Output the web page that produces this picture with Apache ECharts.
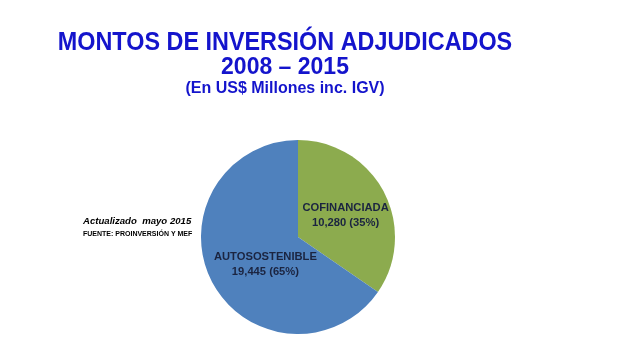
<!DOCTYPE html>
<html><head><meta charset="utf-8">
<script src="https://cdn.jsdelivr.net/npm/echarts@6/dist/echarts.min.js"></script>
<style>html,body{margin:0;padding:0;background:#fff}#c{width:640px;height:357px}</style>
</head><body><div id="c"></div>
<script>
const categories = ["COFINANCIADA", "AUTOSOSTENIBLE"];
const values = [10280, 19445];
const percents = ["35%", "65%"];
const titleLines = ["MONTOS DE INVERSIÓN ADJUDICADOS", "2008 – 2015"];
const subtitle = "(En US$ Millones inc. IGV)";
const noteLines = ["Actualizado  mayo 2015", "FUENTE: PROINVERSIÓN Y MEF"];

const chart = echarts.init(document.getElementById('c'));
const fmt = v => v.toLocaleString('en-US');
const F = '"Liberation Sans", Arial';
chart.setOption({
  animation: false,
  graphic: [
    {type:'text', x:285, y:43, scaleY:1.1, style:{text: titleLines[0], fill:'#1414CC', font:'bold 23.4px ' + F, align:'center', verticalAlign:'middle'}},
    {type:'text', x:285, y:67, scaleY:1.05, style:{text: titleLines[1], fill:'#1414CC', font:'bold 23px ' + F, align:'center', verticalAlign:'middle'}},
    {type:'text', x:285, y:89, style:{text: subtitle, fill:'#1414CC', font:'bold 16px ' + F, align:'center', verticalAlign:'middle'}},
    {type:'text', x:83, y:221, style:{text: noteLines[0], fill:'#000', font:'italic bold 9.6px ' + F, verticalAlign:'middle'}},
    {type:'text', x:83, y:234, style:{text: noteLines[1], fill:'#000', font:'bold 7px ' + F, verticalAlign:'middle'}}
  ],
  series: [{
    type: 'pie',
    center: [298, 237],
    radius: [0, 97],
    startAngle: 90,
    clockwise: true,
    data: categories.map((c, i) => ({
      name: c, value: values[i],
      label: i === 1 ? {offset: [13, 3]} : {offset: [2, 2]}
    })),
    color: ['#8CAB4E', '#4F81BD'],
    itemStyle: {borderWidth: 0},
    label: {
      show: true, position: 'inside',
      formatter: p => p.name + '\n' + fmt(p.value) + ' (' + percents[p.dataIndex] + ')',
      color: '#1B2440', fontFamily: F, fontWeight: 'bold', fontSize: 11.2, lineHeight: 15
    },
    labelLine: {show: false},
    emphasis: {disabled: true}
  }]
});
</script></body></html>
